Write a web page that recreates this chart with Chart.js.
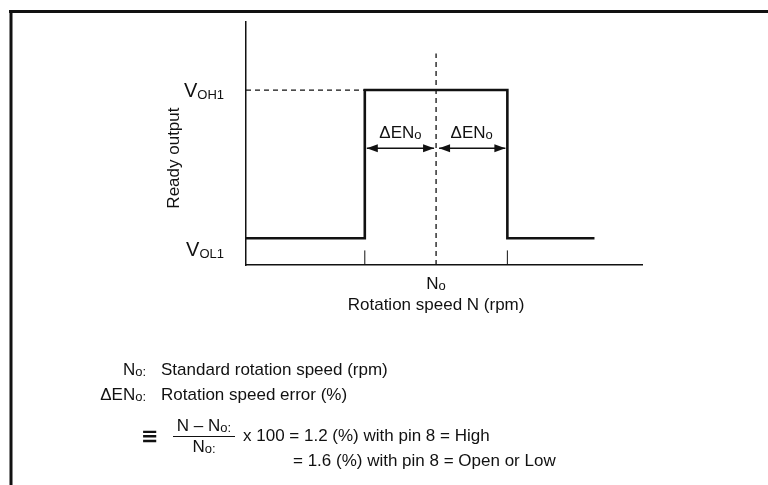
<!DOCTYPE html>
<html>
<head>
<meta charset="utf-8">
<script src="https://cdn.jsdelivr.net/npm/chart.js@4.4.1/dist/chart.umd.min.js"></script>
<style>
  html, body { margin: 0; padding: 0; background: #fff; }
  #wrap { width: 768px; height: 485px; position: relative; }
</style>
</head>
<body>
<div id="wrap"><canvas id="readyChart"></canvas></div>
<script>
// Datos del diagrama (unidades relativas, 0-100)
const speeds = [0, 30, 30, 66, 66, 88];          // velocidad de rotación N
const readyOutput = [11, 11, 72, 72, 11, 11];    // salida "Ready"
const edgeSpeeds = [30, 66];                     // flancos: subida / bajada
const nominalSpeed = [48];                       // No
const levelValues = [11, 72];                    // VOL1, VOH1
const levelNames = ['OL1', 'OH1'];
const nominalTop = [87];                         // fin de la línea punteada vertical
const tickHeight = [6];
const arrowLevel = [48];

const FONT = 'Liberation Sans, Arial, sans-serif';
const INK = '#111';

function xy(xs, ys) {
    return xs.map((x, i) => ({ x: x, y: ys[i] }));
}

// Dibuja texto en tramos (para subíndices)
function drawRuns(ctx, x, y, runs, align) {
    let w = 0;
    runs.forEach(r => { ctx.font = r.font; w += ctx.measureText(r.t).width; });
    let cx = align === 'right' ? x - w : (align === 'center' ? x - w / 2 : x);
    runs.forEach(r => {
        ctx.font = r.font;
        ctx.fillText(r.t, cx, y + (r.dy || 0));
        cx += ctx.measureText(r.t).width;
    });
}

function arrowHead(ctx, x, y, dir) {
    ctx.beginPath();
    ctx.moveTo(x, y);
    ctx.lineTo(x - dir * 11, y - 4);
    ctx.lineTo(x - dir * 11, y + 4);
    ctx.closePath();
    ctx.fill();
}

const main = '17px ' + FONT;
const sub = '13px ' + FONT;

const annotations = {
    id: 'annotations',
    afterDatasetsDraw(chart) {
        const ctx = chart.ctx;
        const xs = chart.scales.x;
        const ys = chart.scales.y;
        const xRise = xs.getPixelForValue(edgeSpeeds[0]);
        const xFall = xs.getPixelForValue(edgeSpeeds[1]);
        const xNo = xs.getPixelForValue(nominalSpeed[0]);
        const yArrow = ys.getPixelForValue(arrowLevel[0]);

        ctx.save();
        ctx.fillStyle = INK;
        ctx.strokeStyle = INK;

        // Marco exterior
        ctx.lineWidth = 3;
        ctx.beginPath();
        ctx.moveTo(9, 11.5);
        ctx.lineTo(768, 11.5);
        ctx.moveTo(11, 10);
        ctx.lineTo(11, 485);
        ctx.stroke();

        // Flechas ΔENo
        ctx.lineWidth = 1.5;
        ctx.beginPath();
        ctx.moveTo(xRise + 2, yArrow);
        ctx.lineTo(xNo - 2, yArrow);
        ctx.moveTo(xNo + 3, yArrow);
        ctx.lineTo(xFall - 2, yArrow);
        ctx.stroke();
        arrowHead(ctx, xRise + 2, yArrow, -1);
        arrowHead(ctx, xNo - 2, yArrow, 1);
        arrowHead(ctx, xNo + 3, yArrow, -1);
        arrowHead(ctx, xFall - 2, yArrow, 1);

        ctx.textBaseline = 'alphabetic';
        drawRuns(ctx, (xRise + xNo) / 2, yArrow - 10,
            [{ t: 'ΔEN', font: main }, { t: 'o', font: sub, dy: 1 }], 'center');
        drawRuns(ctx, (xNo + xFall) / 2, yArrow - 10,
            [{ t: 'ΔEN', font: main }, { t: 'o', font: sub, dy: 1 }], 'center');

        // Etiquetas de nivel
        const vFont = '20px ' + FONT;
        const yH = ys.getPixelForValue(levelValues[1]);
        const yL = ys.getPixelForValue(levelValues[0]);
        drawRuns(ctx, xs.left - 22, yH + 7,
            [{ t: 'V', font: vFont }, { t: levelNames[1], font: sub, dy: 2 }], 'right');
        drawRuns(ctx, xs.left - 22, yL + 18,
            [{ t: 'V', font: vFont }, { t: levelNames[0], font: sub, dy: 2 }], 'right');

        // Título del eje Y (rotado)
        ctx.save();
        ctx.translate(xs.left - 67, ys.getPixelForValue(44));
        ctx.rotate(-Math.PI / 2);
        ctx.font = main;
        ctx.textAlign = 'center';
        ctx.fillText('Ready output', 0, 0);
        ctx.restore();

        // Eje X
        drawRuns(ctx, xNo, ys.bottom + 24,
            [{ t: 'N', font: main }, { t: 'o', font: sub, dy: 1 }], 'center');
        ctx.font = main;
        ctx.textAlign = 'center';
        ctx.fillText('Rotation speed N (rpm)', xNo, ys.bottom + 45);
        ctx.textAlign = 'left';

        // Notas
        drawRuns(ctx, 146, 375,
            [{ t: 'N', font: main }, { t: 'o:', font: sub, dy: 1 }], 'right');
        drawRuns(ctx, 161, 375, [{ t: 'Standard rotation speed (rpm)', font: main }], 'left');
        drawRuns(ctx, 146, 400,
            [{ t: 'ΔEN', font: main }, { t: 'o:', font: sub, dy: 1 }], 'right');
        drawRuns(ctx, 161, 400, [{ t: 'Rotation speed error (%)', font: main }], 'left');

        ctx.font = 'bold 21px DejaVu Sans';
        ctx.fillText('≡', 141, 443);

        drawRuns(ctx, 204, 431,
            [{ t: 'N – N', font: main }, { t: 'o:', font: sub, dy: 1 }], 'center');
        ctx.lineWidth = 1.2;
        ctx.beginPath();
        ctx.moveTo(173, 436.5);
        ctx.lineTo(235, 436.5);
        ctx.stroke();
        drawRuns(ctx, 204, 452,
            [{ t: 'N', font: main }, { t: 'o:', font: sub, dy: 1 }], 'center');

        drawRuns(ctx, 243, 441, [{ t: 'x 100 = 1.2 (%) with pin 8 = High', font: main }], 'left');
        drawRuns(ctx, 293, 466, [{ t: '= 1.6 (%) with pin 8 = Open or Low', font: main }], 'left');

        ctx.restore();
    }
};

const lineStyle = { pointRadius: 0, borderColor: INK, tension: 0, fill: false };

const datasets = [
    Object.assign({ label: 'Ready output', data: xy(speeds, readyOutput), borderWidth: 2.6 }, lineStyle),
    Object.assign({
        label: 'VOH1 ref',
        data: xy([0, edgeSpeeds[0]], [levelValues[1], levelValues[1]]),
        borderWidth: 1.3, borderDash: [5, 4]
    }, lineStyle),
    Object.assign({
        label: 'No',
        data: xy([nominalSpeed[0], nominalSpeed[0]], [0, nominalTop[0]]),
        borderWidth: 1.3, borderDash: [5, 4]
    }, lineStyle)
].concat(edgeSpeeds.map(s => Object.assign({
    label: 'tick ' + s,
    data: xy([s, s], [0, tickHeight[0]]),
    borderWidth: 1
}, lineStyle)));

new Chart(document.getElementById('readyChart'), {
    type: 'line',
    data: { datasets: datasets },
    plugins: [annotations],
    options: {
        responsive: true,
        maintainAspectRatio: false,
        devicePixelRatio: 1,
        animation: false,
        events: [],
        // los ejes ocupan unos px propios, se compensa aquí
        layout: { padding: { left: 238, right: 126, top: 22, bottom: 212 } },
        scales: {
            x: {
                type: 'linear', min: 0, max: 100,
                grid: { display: false },
                ticks: { display: false },
                border: { display: true, color: INK, width: 1.5 }
            },
            y: {
                type: 'linear', min: 0, max: 100,
                grid: { display: false },
                ticks: { display: false },
                border: { display: true, color: INK, width: 1.5 }
            }
        },
        plugins: {
            legend: { display: false },
            tooltip: { enabled: false }
        }
    }
});
</script>
</body>
</html>
